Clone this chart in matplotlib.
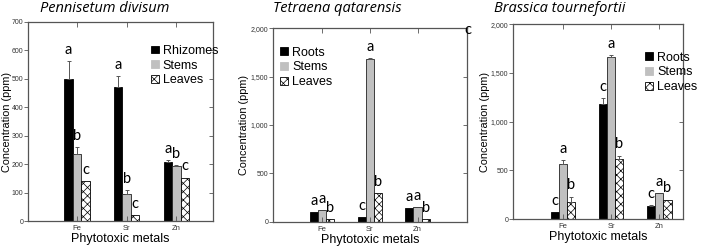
import matplotlib
matplotlib.use("Agg")
import matplotlib.pyplot as plt
import matplotlib.ticker as mticker
import numpy as np
from matplotlib.patches import Patch

plt.rcParams['hatch.linewidth'] = 0.5

metals = ["Fe", "Sr", "Zn"]

# Panel 1: Pennisetum divisum
p1_title = "Pennisetum divisum"
p1_series = ["Rhizomes", "Stems", "Leaves"]
p1_vals = [[500, 472, 208], [235, 95, 193], [140, 20, 153]]
p1_errs = [[62, 38, 5], [25, 14, 3], [0, 0, 0]]
p1_letters = [["a", "a", "a"], ["b", "b", "b"], ["c", "c", "c"]]

# Panel 2: Tetraena qatarensis
p2_title = "Tetraena qatarensis"
p2_series = ["Roots", "Stems", "Leaves"]
p2_vals = [[97, 52, 137], [118, 1678, 150], [30, 298, 30]]
p2_errs = [[0, 0, 0], [0, 12, 0], [0, 0, 0]]
p2_letters = [["a", "c", "a"], ["a", "a", "a"], ["b", "b", "b"]]

# Panel 3: Brassica tournefortii
p3_title = "Brassica tournefortii"
p3_series = ["Roots", "Stems", "Leaves"]
p3_vals = [[67, 1180, 132], [570, 1668, 262], [175, 612, 200]]
p3_errs = [[0, 58, 8], [38, 20, 0], [55, 40, 0]]
p3_letters = [["c", "c", "c"], ["a", "a", "a"], ["b", "b", "b"]]

W, H = 707, 249
fig = plt.figure(figsize=(W / 100, H / 100), dpi=100)

def ax_px(l, r, t, b):
    return fig.add_axes([l / W, 1 - b / H, (r - l) / W, (b - t) / H])

panels = [
    dict(rect=(28, 213, 22, 221), xlim=(-0.99, 2.74), ymax=700, ystep=100,
         title=p1_title, tx=105, series=p1_series, vals=p1_vals, errs=p1_errs,
         letters=p1_letters, leg=(0.665, 0.885), comma=False, ylx=-0.0875),
    dict(rect=(273.3, 466.7, 28.3, 221.7), xlim=(-1.02, 3.03), ymax=2000, ystep=500,
         title=p2_title, tx=337, series=p2_series, vals=p2_vals, errs=p2_errs,
         letters=p2_letters, leg=(0.035, 0.905), comma=True, ylx=-0.125),
    dict(rect=(513.3, 683.3, 24.3, 219), xlim=(-1.03, 2.5), ymax=2000, ystep=500,
         title=p3_title, tx=560, series=p3_series, vals=p3_vals, errs=p3_errs,
         letters=p3_letters, leg=(0.775, 0.86), comma=True, ylx=-0.135),
]

bw = 0.17
x = np.arange(len(metals))
fills = [dict(color="black", edgecolor="black"),
         dict(color="#c0c0c0", edgecolor="#222222"),
         dict(facecolor="white", edgecolor="black", hatch="xxxx")]
spine_c = "#555555"

for p in panels:
    ax = ax_px(*p["rect"])
    handles = []
    for i in range(3):
        xs = x + (i - 1) * bw
        ax.bar(xs, p["vals"][i], width=bw, linewidth=0.6, **fills[i])
        handles.append(Patch(linewidth=0.6, **fills[i]))
        e = np.array(p["errs"][i])
        v = np.array(p["vals"][i])
        m = e > 0
        if m.any():
            ax.errorbar(xs[m], v[m], yerr=[np.zeros(m.sum()), e[m]], fmt="none",
                        ecolor="#555555", elinewidth=0.7, capsize=1.5, capthick=0.7)
        for j in range(3):
            ax.annotate(p["letters"][i][j], (xs[j], v[j] + e[j]), xytext=(0, 3),
                        textcoords="offset points", ha="center", va="bottom",
                        fontsize=10.5, family="Lato")
    ax.set_xlim(*p["xlim"])
    ax.set_ylim(0, p["ymax"])
    ax.set_yticks(np.arange(0, p["ymax"] + 1, p["ystep"]))
    if p["comma"]:
        ax.yaxis.set_major_formatter(mticker.FuncFormatter(lambda v, _: f"{int(v):,}"))
    ax.set_xticks(x)
    ax.set_xticklabels(metals, fontsize=5.5, family="Liberation Sans", color="#333333")
    ax.tick_params(axis="x", which="both", bottom=True, top=True, direction="in",
                   length=3.5, width=0.6, color=spine_c, pad=3)
    ax.tick_params(axis="y", left=True, right=True, direction="out", length=3,
                   width=0.6, color=spine_c, labelsize=5.0, pad=0.5, labelcolor="#333333")
    for t in ax.yaxis.get_major_ticks():
        t.tick2line.set_marker(matplotlib.lines.TICKLEFT)
    for lab in ax.get_yticklabels():
        lab.set_family("Liberation Sans")
    for s in ax.spines.values():
        s.set_color(spine_c)
        s.set_linewidth(0.9)
    ax.set_ylabel("Concentration (ppm)", fontsize=7.8, family="Liberation Sans")
    ax.yaxis.set_label_coords(p["ylx"], 0.5)
    ax.set_xlabel("Phytotoxic metals", fontsize=9, family="Liberation Sans", labelpad=0.5)
    ax.legend(handles, p["series"], loc="upper left", bbox_to_anchor=p["leg"],
              frameon=False, borderpad=0, borderaxespad=0, handlelength=0.6,
              handleheight=0.6, handletextpad=0.35, labelspacing=0.22,
              prop=dict(family="Liberation Sans", size=9))
    fig.text(p["tx"] / W, 1 - 8 / H, p["title"], ha="center", va="center",
             fontsize=10.5, style="italic", family="Open Sans")

fig.text(467.5 / W, 1 - 30 / H, "c", ha="center", va="center", fontsize=10.5, family="Lato")

fig.savefig("out.png", dpi=100)
